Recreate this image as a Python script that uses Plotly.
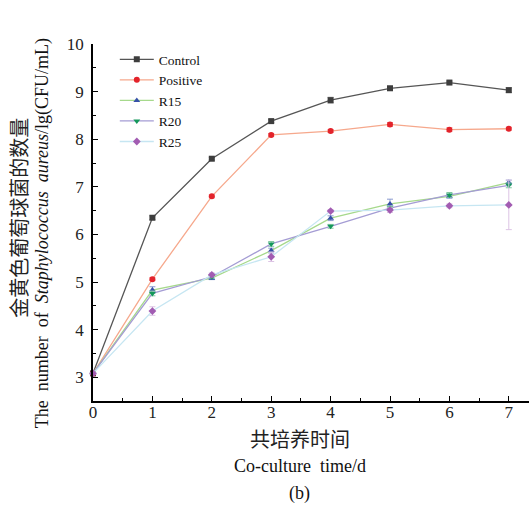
import plotly.graph_objects as go

days = [0, 1, 2, 3, 4, 5, 6, 7]
control = [3.08, 6.35, 7.59, 8.38, 8.82, 9.07, 9.19, 9.03]
positive = [3.08, 5.06, 6.80, 8.09, 8.17, 8.31, 8.20, 8.22]
r15 = [3.08, 4.83, 5.08, 5.66, 6.34, 6.64, 6.80, 7.09]
r20 = [3.08, 4.76, 5.11, 5.80, 6.17, 6.55, 6.83, 7.03]
r25 = [3.08, 4.39, 5.15, 5.53, 6.49, 6.51, 6.60, 6.62]

control_err = [0.02, 0.04, 0.03, 0.03, 0.06, 0.04, 0.03, 0.05]
positive_err = [0.02, 0.03, 0.03, 0.03, 0.03, 0.04, 0.04, 0.03]
r15_err = [0.02, 0.07, 0.03, 0.05, 0.05, 0.10, 0.04, 0.05]
r20_err = [0.02, 0.05, 0.03, 0.05, 0.04, 0.04, 0.05, 0.05]
r25_err = [0.02, 0.09, 0.04, 0.10, 0.03, 0.05, 0.04, 0.52]

series_names = ["Control", "Positive", "R15", "R20", "R25"]

SERIF = "Liberation Serif, Times New Roman, serif"
CJK = "Noto Sans CJK SC"

styles = [
    dict(line="#555555", marker="#3d3d3d", symbol="square", err="#8a8a8a"),
    dict(line="#f6a88c", marker="#e3232b", symbol="circle", err="#f08080"),
    dict(line="#a6d98c", marker="#3550a8", symbol="triangle-up", err="#8a9ad0"),
    dict(line="#a49cd4", marker="#14985a", symbol="triangle-down", err="#80c8a0"),
    dict(line="#c6e6f2", marker="#a25cb2", symbol="diamond", err="#dcc4e4"),
]

data = [control, positive, r15, r20, r25]
errs = [control_err, positive_err, r15_err, r20_err, r25_err]

fig = go.Figure()
for name, ys, es, st in zip(series_names, data, errs, styles):
    fig.add_trace(go.Scatter(
        x=days, y=ys, name=name, mode="lines+markers",
        line=dict(color=st["line"], width=1.3),
        marker=dict(color=st["marker"], symbol=st["symbol"], size=6),
        error_y=dict(type="data", array=es, visible=True, color=st["err"],
                     thickness=1, width=3),
        cliponaxis=False,
    ))

axis_common = dict(
    showline=True, linecolor="black", linewidth=1.5,
    ticks="inside", ticklen=5, tickwidth=1.3, tickcolor="black",
    showgrid=False, zeroline=False,
    tickfont=dict(family=SERIF, size=17, color="#222"),
    minor=dict(ticks="inside", ticklen=3, tickwidth=1.2, tickcolor="black", dtick=0.5),
    automargin=False,
)

fig.update_xaxes(range=[0, 7.34], dtick=1, tick0=0, ticklabelstandoff=-5, **axis_common)
fig.update_yaxes(range=[2.5, 10], dtick=1, tick0=0, ticklabelstandoff=4, **axis_common)

fig.update_layout(
    width=531, height=508,
    margin=dict(l=93, r=2, t=44, b=107),
    paper_bgcolor="white", plot_bgcolor="white",
    showlegend=True,
    legend=dict(
        x=0.05, y=1.0, xanchor="left", yanchor="top",
        font=dict(family=SERIF, size=13.5, color="#111"),
        bgcolor="rgba(0,0,0,0)", tracegroupgap=0, itemwidth=34,
    ),
    annotations=[
        dict(text="共培养时间", xref="paper", yref="paper", x=0.474, y=-0.106,
             showarrow=False, font=dict(family=CJK, size=20, color="#222"),
             xanchor="center", yanchor="middle"),
        dict(text="Co-culture\u00a0\u00a0time/d", xref="paper", yref="paper", x=0.474, y=-0.183,
             showarrow=False, font=dict(family=SERIF, size=18, color="#111"),
             xanchor="center", yanchor="middle"),
        dict(text="(b)", xref="paper", yref="paper", x=0.474, y=-0.26,
             showarrow=False, font=dict(family=SERIF, size=18, color="#111"),
             xanchor="center", yanchor="middle"),
        dict(text="金黄色葡萄球菌的数量", xref="paper", yref="paper", x=-0.170, y=0.513,
             showarrow=False, textangle=-90, font=dict(family=CJK, size=20, color="#222"),
             xanchor="center", yanchor="middle"),
        dict(text="The\u00a0\u00a0number\u00a0\u00a0of\u00a0\u00a0<i>Staphylococcus</i>\u00a0\u00a0<i>aureus</i>/lg(CFU/mL)",
             xref="paper", yref="paper", x=-0.117, y=0.47,
             showarrow=False, textangle=-90, font=dict(family=SERIF, size=18, color="#111"),
             xanchor="center", yanchor="middle"),
    ],
)

fig.write_html("out.html", config={"displayModeBar": False},
               post_script="document.body.style.margin='0';document.body.style.padding='0';")
